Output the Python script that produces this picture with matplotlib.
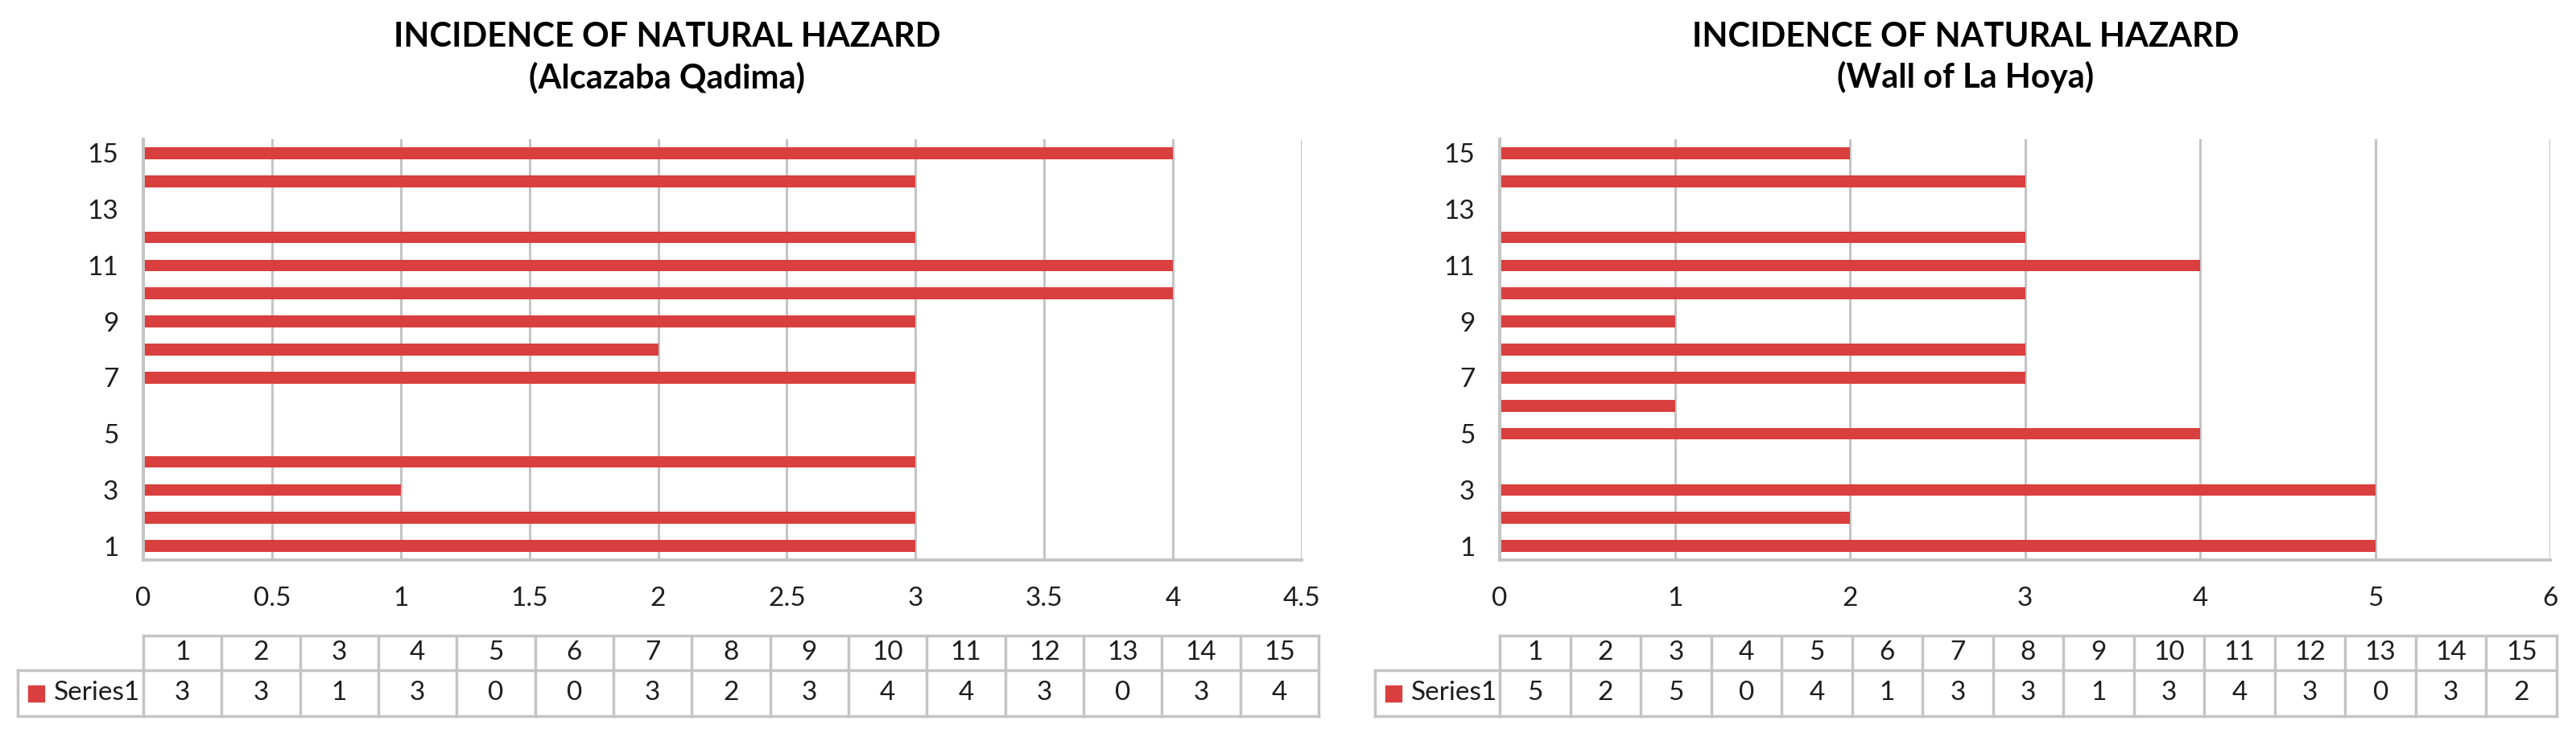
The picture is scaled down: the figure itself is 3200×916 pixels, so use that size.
import matplotlib.pyplot as plt
import numpy as np

# data
categories = list(range(1, 16))
alcazaba = [3, 3, 1, 3, 0, 0, 3, 2, 3, 4, 4, 3, 0, 3, 4]
la_hoya = [5, 2, 5, 0, 4, 1, 3, 3, 1, 3, 4, 3, 0, 3, 2]
series_name = 'Series1'
title_main = 'INCIDENCE OF NATURAL HAZARD'
subtitles = ['(Alcazaba Qadima)', '(Wall of La Hoya)']
x_ticks = [[0, 0.5, 1, 1.5, 2, 2.5, 3, 3.5, 4, 4.5], [0, 1, 2, 3, 4, 5, 6]]
y_ticks = [1, 3, 5, 7, 9, 11, 13, 15]

RED = '#D93F3F'
GRID = '#C4C4C4'
TEXT = '#1E1E1E'
W, H = 3200, 916

plt.rcParams['font.family'] = ['Lato', 'DejaVu Sans']

fig = plt.figure(figsize=(W / 100, H / 100), dpi=100)


def box(x0, y0, x1, y1):
    # pixel box (top-left origin) -> figure fraction rect
    return [x0 / W, 1 - y1 / H, (x1 - x0) / W, (y1 - y0) / H]


panels = [
    dict(plot=(178, 173, 1617, 696), table=(22, 790, 1638, 890), title_x=829,
         values=alcazaba, sub=subtitles[0], ticks=x_ticks[0]),
    dict(plot=(1863, 173, 3168, 696), table=(1708, 790, 3176, 890), title_x=2442,
         values=la_hoya, sub=subtitles[1], ticks=x_ticks[1]),
]

for p in panels:
    # titles
    fig.text(p['title_x'] / W, 1 - 46 / H, title_main, ha='center', va='center',
             fontsize=30, fontweight='bold', color='black')
    fig.text(p['title_x'] / W, 1 - 96 / H, p['sub'], ha='center', va='center',
             fontsize=30, fontweight='bold', color='black')

    # bar chart
    ax = fig.add_axes(box(*p['plot']))
    ax.barh(categories, p['values'], height=0.42, color=RED, zorder=2)
    ax.set_xlim(p['ticks'][0], p['ticks'][-1])
    ax.set_ylim(0.5, 15.5)
    ax.set_xticks(p['ticks'])
    ax.set_xticklabels(['%g' % t for t in p['ticks']])
    ax.set_yticks(y_ticks)
    ax.xaxis.grid(True, color=GRID, lw=2.2, zorder=1)
    ax.set_axisbelow(True)
    for s in ['top', 'right']:
        ax.spines[s].set_visible(False)
    for s in ['left', 'bottom']:
        ax.spines[s].set_color(GRID)
        ax.spines[s].set_linewidth(2.8)
    ax.tick_params(axis='x', length=0, pad=24, labelsize=24, labelcolor=TEXT)
    ax.tick_params(axis='y', length=0, pad=22, labelsize=24, labelcolor=TEXT)

    # data table under the chart
    tx0, ty0, tx1, ty1 = p['table']
    lab_right = p['plot'][0]
    colw = (tx1 - lab_right) / len(categories)
    lab_w = (lab_right - tx0) / colw
    n = len(categories)
    at = fig.add_axes(box(tx0, ty0, tx1, ty1))
    at.set_xlim(-lab_w, n)
    at.set_ylim(0, 100)
    at.axis('off')
    lk = dict(color=GRID, lw=2.5, clip_on=False)
    at.plot([0, n], [100, 100], **lk)
    at.plot([-lab_w, n], [57, 57], **lk)
    at.plot([-lab_w, n], [0, 0], **lk)
    at.plot([-lab_w, -lab_w], [0, 57], **lk)
    for i in range(n + 1):
        at.plot([i, i], [0, 100], **lk)
    for i, (c, v) in enumerate(zip(categories, p['values'])):
        at.text(i + 0.5, 78.5, str(c), ha='center', va='center', fontsize=24, color=TEXT)
        at.text(i + 0.5, 28.5, str(v), ha='center', va='center', fontsize=24, color=TEXT)
    at.plot([-lab_w + 23 / colw], [28.5], marker='s', markersize=14, color=RED,
            linestyle='none', clip_on=False)
    at.text(-lab_w + 45 / colw, 28.5, series_name, ha='left', va='center',
            fontsize=24, color=TEXT)

fig.savefig('out.png', dpi=100, facecolor='white')
